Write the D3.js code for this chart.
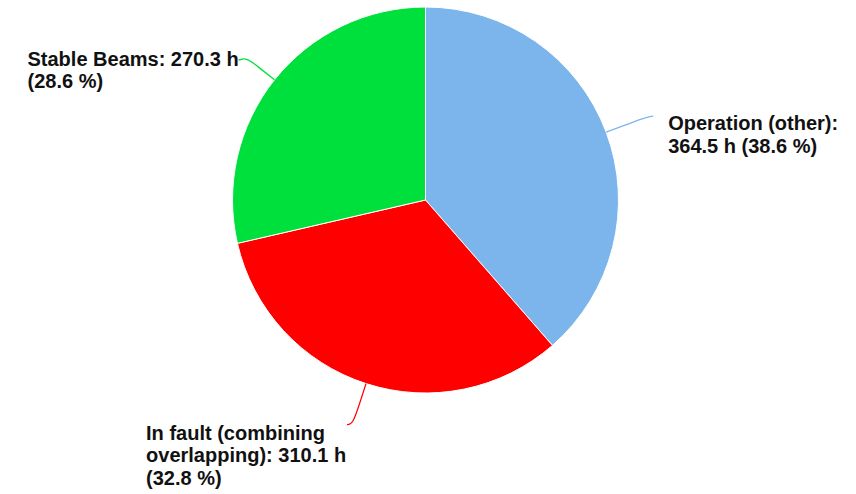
<!DOCTYPE html>
<html>
<head>
<meta charset="utf-8">
<script src="https://cdn.jsdelivr.net/npm/d3@7/dist/d3.min.js"></script>
<style>
  html, body { margin: 0; padding: 0; background: #ffffff; }
  svg { display: block; }
  .label { font-family: "Liberation Sans", Arial, Helvetica, sans-serif; font-weight: bold; font-size: 20px; fill: #111; }
</style>
</head>
<body>
<svg id="chart" width="856" height="494"></svg>
<script>
// Beam time breakdown (hours)
const categories = ["Operation (other)", "In fault (combining overlapping)", "Stable Beams"];
const hours = [364.5, 310.1, 270.3];
const percents = [38.6, 32.8, 28.6];
const colors = ["#7cb5ec", "#ff0000", "#00e03c"];

// Label text lines for each slice
const labelLines = [
  ["Operation (other):", "364.5 h (38.6 %)"],
  ["In fault (combining", "overlapping): 310.1 h", "(32.8 %)"],
  ["Stable Beams: 270.3 h", "(28.6 %)"]
];

// Label placement relative to the point where the slice's mid-angle meets its rim
const labelLayout = [
  { end: [47, -16], text: [62, -2], align: "left" },
  { end: [-19, 41], text: [-220, 56], align: "right" },
  { end: [-36, -20], text: [-247, -14], align: "right" }
];

const width = 856, height = 494;
const cx = 425.5, cy = 200, radius = 193;
const lineHeight = 22.5;

const svg = d3.select("#chart");
const g = svg.append("g").attr("transform", `translate(${cx},${cy})`);

const pie = d3.pie().sort(null).value(d => d)(hours);
const arc = d3.arc().innerRadius(0).outerRadius(radius);

g.selectAll("path.slice")
  .data(pie)
  .join("path")
  .attr("class", "slice")
  .attr("d", arc)
  .attr("fill", (d, i) => colors[i])
  .attr("stroke", "#ffffff")
  .attr("stroke-width", 1)
  .attr("stroke-linejoin", "round");

function rimPoint(d, r) {
  const a = (d.startAngle + d.endAngle) / 2;
  return [r * Math.sin(a), -r * Math.cos(a)];
}

// Soft connectors: straight out from the rim, then a gentle curve to the label
g.selectAll("path.connector")
  .data(pie)
  .join("path")
  .attr("class", "connector")
  .attr("fill", "none")
  .attr("stroke", (d, i) => colors[i])
  .attr("stroke-width", 1.3)
  .attr("d", (d, i) => {
    const touch = rimPoint(d, radius);
    const brk = rimPoint(d, radius + 20);
    const lay = labelLayout[i];
    const end = [touch[0] + lay.end[0], touch[1] + lay.end[1]];
    const c1 = [end[0] + (lay.align === "left" ? -5 : 5), end[1]];
    const c2 = [2 * brk[0] - touch[0], 2 * brk[1] - touch[1]];
    const p = d3.path();
    p.moveTo(end[0], end[1]);
    p.bezierCurveTo(c1[0], c1[1], c2[0], c2[1], brk[0], brk[1]);
    p.lineTo(touch[0], touch[1]);
    return p.toString();
  });

const labels = g.selectAll("text.label")
  .data(pie)
  .join("text")
  .attr("class", "label")
  .attr("x", (d, i) => rimPoint(d, radius)[0] + labelLayout[i].text[0])
  .attr("y", (d, i) => rimPoint(d, radius)[1] + labelLayout[i].text[1]);

labels.each(function (d, i) {
  const t = d3.select(this);
  const x = t.attr("x");
  labelLines[i].forEach((line, k) => {
    t.append("tspan")
      .attr("x", x)
      .attr("dy", k === 0 ? 0 : lineHeight)
      .text(line);
  });
});
</script>
</body>
</html>
